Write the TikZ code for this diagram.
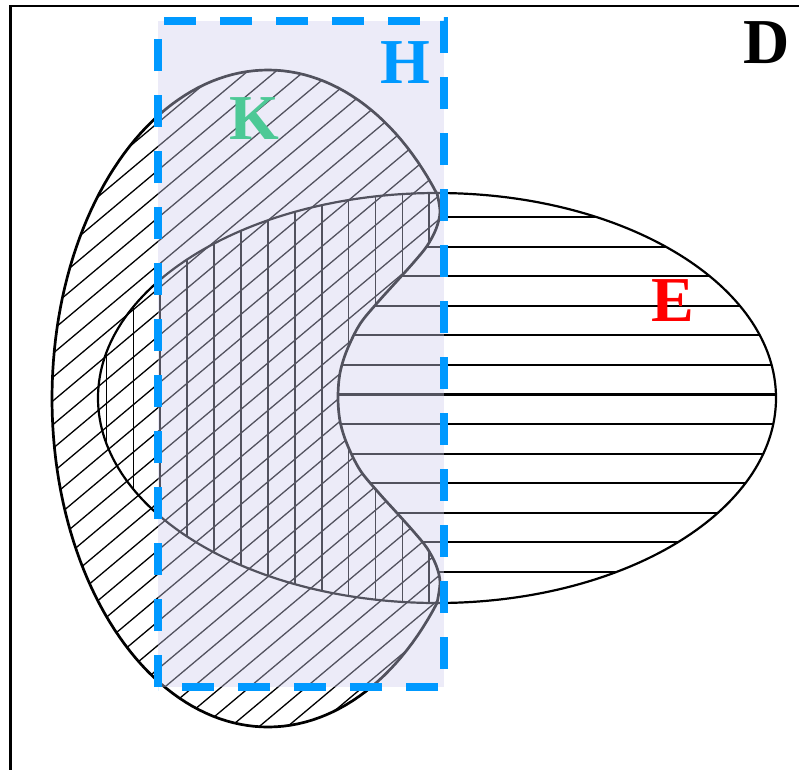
\documentclass[tikz,border=0pt]{standalone}
\usepackage{fontspec}
\setmainfont{Liberation Serif}
\begin{document}
\begin{tikzpicture}[x=1pt,y=-1pt,
  diagline/.style={line width=1.3pt, black},
  vertline/.style={line width=1.7pt, black},
  horline/.style={line width=2.1pt, black},
  kline/.style={line width=2.7pt, black},
  eline/.style={line width=2.2pt, black},
  lbl/.style={font=\fontsize{64}{64}\selectfont\bfseries, inner sep=0pt, anchor=base},
]
\definecolor{hblue}{RGB}{0,153,255}
\definecolor{hfill}{RGB}{207,205,237}
\definecolor{kgreen}{RGB}{77,201,150}
\useasboundingbox (0,0) rectangle (799,769);
\clip (0,0) rectangle (799,769);
\def\myKpath{plot[domain=38.5:321.3, samples=150] ({268+216*cos(\x)}, {398.5+328.5*sin(\x)})
  -- plot[smooth, tension=0.55] coordinates {(437,193) (440,212) (436,229) (427,246) (414,262) (397,281) (378,302) (360,324) (347,350) (340,373) (338,397) (340,421) (347,444) (360,470) (378,492) (397,513) (414,532) (427,548) (436,565) (440,582) (437,603)} -- cycle}
\def\myEpath{(437,398) ellipse [x radius=339, y radius=205]}
% frame D
\draw[line width=2.6pt, black] (10.5,6) rectangle (830,800);
% diagonal hatch in K
\begin{scope}
  \clip \myKpath;
  \foreach \k in {-14,...,48} {
    \draw[diagline] (0,{302.8+23.75*\k}) -- (800,{302.8+23.75*\k-671.3});
  }
\end{scope}
% vertical hatch in K and E
\begin{scope}
  \clip \myKpath;
  \clip \myEpath;
  \foreach \k in {0,...,13} {
    \draw[vertline] ({106.5+26.9*\k},150) -- ({106.5+26.9*\k},650);
  }
\end{scope}
% horizontal hatch in E outside K
\begin{scope}[even odd rule]
  \clip (-10,-10) rectangle (820,790) \myKpath;
  \clip \myEpath;
  \foreach \k in {0,...,12} {
    \draw[horline] (250,{217.3+29.53*\k}) -- (790,{217.3+29.53*\k});
  }
\end{scope}
% outlines
\draw[eline] \myEpath;
\draw[kline, line join=round] \myKpath;
% H overlay
\fill[hfill, fill opacity=0.4] (158,21) rectangle (444,687);
\draw[hblue, line width=7.5pt, dash pattern=on 32pt off 24pt] (158,687) -- (158,21) -- (444,21) -- (444,687) -- cycle;
% labels
\node[lbl, text=black] (labD) at (766.5,63) {D};
\node[lbl, text=hblue] (labH) at (405,83) {H};
\node[lbl, text=kgreen] (labK) at (254,139) {K};
\node[lbl, text=red] (labE) at (672.5,321) {E};
\end{tikzpicture}
\end{document}
